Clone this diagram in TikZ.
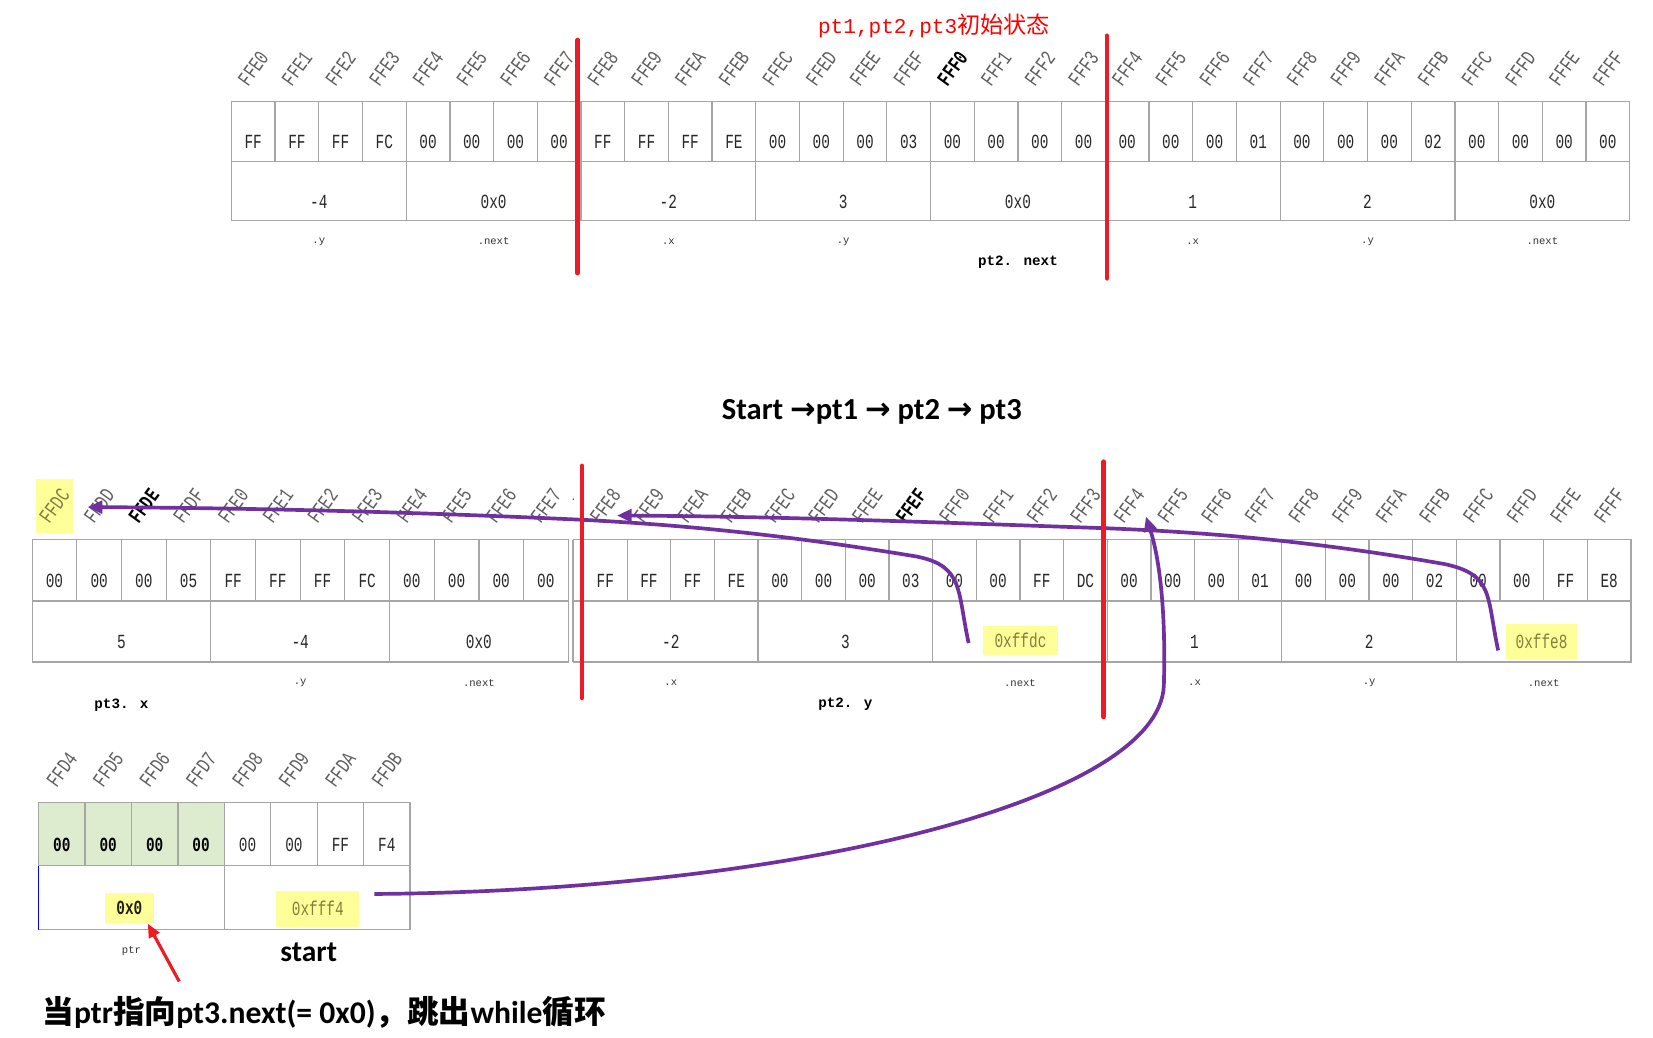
\documentclass[tikz,border=0pt]{standalone}
\usepackage{fontspec}
\usetikzlibrary{arrows.meta,calc}
\newfontfamily\cellfont[FakeStretch=0.72]{Liberation Mono}
\newfontfamily\monof{Liberation Mono}
\newfontfamily\cjkf{Noto Sans CJK SC}
\newfontfamily\carl{Carlito}
\newfontfamily\dejav{DejaVu Sans}
\definecolor{cellgray}{RGB}{166,166,166}
\definecolor{txt}{RGB}{40,40,40}
\definecolor{addrgray}{RGB}{95,95,95}
\definecolor{hlfill}{RGB}{255,255,153}
\definecolor{hltext}{RGB}{128,128,64}
\definecolor{greenfill}{RGB}{221,235,207}
\definecolor{pur}{RGB}{112,48,160}
\definecolor{redc}{RGB}{237,28,36}
\newcommand\harr{{\dejav\bfseries →}}
\begin{document}
\begin{tikzpicture}[x=1pt,y=1pt,
  bytec/.style={draw=cellgray, line width=1.2pt, inner sep=0pt, outer sep=0pt, anchor=north west, text height=33pt, text depth=0pt, font=\cellfont\fontsize{19}{19}\selectfont, text=txt},
  dims/.style 2 args={minimum width=#1, minimum height=#2},
  greenc/.style={fill=greenfill, font=\cellfont\bfseries\fontsize{19}{19}\selectfont, text=black},
  addr/.style={rotate=54, inner sep=0pt, font=\cellfont\fontsize{20}{20}\selectfont, text=addrgray},
  addrb/.style={addr, font=\cellfont\bfseries\fontsize{20}{20}\selectfont, text=black},
  addrhl/.style={addr, text=hltext},
  lbl/.style={inner sep=0pt, font=\monof\fontsize{10}{10}\selectfont, text=black!80},
  blbl/.style={inner sep=0pt, font=\monof\bfseries\fontsize{13.5}{14}\selectfont, text=black},
  hlbox/.style={fill=hlfill, inner sep=0pt, font=\cellfont\fontsize{19}{19}\selectfont, text=hltext},
  parrow/.style={draw=pur, line width=3.5pt, -{Triangle[length=14pt,width=12pt]}},
  redline/.style={draw=redc, line width=4.5pt, line cap=round},
  rarrow/.style={draw=redc, line width=3pt, -{Triangle[length=13pt,width=11pt]}}]
\useasboundingbox (0,0) rectangle (1568,-984);
\fill[white] (0,0) rectangle (1568,-984);

% ---------- top title ----------
\node[text=red, inner sep=0pt] (title1) at (886,-25) {\monof\fontsize{20}{22}\selectfont pt1,pt2,pt3\cjkf\fontsize{22}{24}\selectfont 初始状态};

% ---------- top table ----------
\foreach \v/\s [count=\i from 0] in {FFE0/addr,FFE1/addr,FFE2/addr,FFE3/addr,FFE4/addr,FFE5/addr,FFE6/addr,FFE7/addr,FFE8/addr,FFE9/addr,FFEA/addr,FFEB/addr,FFEC/addr,FFED/addr,FFEE/addr,FFEF/addr,FFF0/addrb,FFF1/addr,FFF2/addr,FFF3/addr,FFF4/addr,FFF5/addr,FFF6/addr,FFF7/addr,FFF8/addr,FFF9/addr,FFFA/addr,FFFB/addr,FFFC/addr,FFFD/addr,FFFE/addr,FFFF/addr}
  \node[\s] (ta\i) at ({219.5+41.45*(\i+0.5)},-65) {\v};
\foreach \v [count=\i from 0] in {FF,FF,FF,FC,00,00,00,00,FF,FF,FF,FE,00,00,00,03,00,00,00,00,00,00,00,01,00,00,00,02,00,00,00,00}
  \node[bytec, dims={41.45pt}{57pt}] (tb\i) at ({219.5+41.45*\i},-96) {\v};
\foreach \v [count=\i from 0] in {-4,0x0,-2,3,0x0,1,2,0x0}
  \node[bytec, dims={165.8pt}{56pt}] (tg\i) at ({219.5+165.8*\i},-153) {\v};
\foreach \t/\g in {.y/0,.next/1,.x/2,.y/3,.x/5,.y/6,.next/7}
  \node[lbl] (tl\g) at ($(tg\g.south)+(0,-20)$) {\t};
\node[blbl] (pt2next) at ($(tg4.south)+(0,-40)$) {pt2. next};

% ---------- middle title ----------
\node[inner sep=0pt, font=\carl\bfseries\fontsize{29}{32}\selectfont] (title2) at (827,-391) {Start \harr pt1 \harr\ pt2 \harr\ pt3};

% ---------- middle table, left part ----------
\node[hlbox, minimum width=35pt, minimum height=52pt] (hlDC) at (51.5,-480) {};
\foreach \v/\s [count=\i from 0] in {FFDC/addrhl,FFDD/addr,FFDE/addrb,FFDF/addr,FFE0/addr,FFE1/addr,FFE2/addr,FFE3/addr,FFE4/addr,FFE5/addr,FFE6/addr,FFE7/addr}
  \node[\s] (ma\i) at ({30.5+42.375*(\i+0.5)},-480) {\v};
\foreach \v [count=\i from 0] in {00,00,00,05,FF,FF,FF,FC,00,00,00,00}
  \node[bytec, dims={42.375pt}{58pt}] (mlb\i) at ({30.5+42.375*\i},-512) {\v};
\foreach \v [count=\i from 0] in {5,-4,0x0}
  \node[bytec, dims={169.5pt}{58pt}] (mlg\i) at ({30.5+169.5*\i},-570) {\v};
\node[lbl] (mll1) at ($(mlg1.south)+(0,-20)$) {.y};
\node[lbl] (mll2) at ($(mlg2.south)+(0,-20)$) {.next};
\node[blbl] (pt3x) at ($(mlg0.south)+(0,-41)$) {pt3. x};
\node[inner sep=0pt, font=\monof\fontsize{10}{10}\selectfont, text=black!70] (dot) at (544,-474) {.};

% ---------- middle table, right part ----------
\draw[cellgray, line width=1.2pt] (543.5,-512) -- (553.5,-512) (543.5,-570) -- (553.5,-570) (543.5,-628) -- (553.5,-628) (543.5,-512) -- (543.5,-628);
\foreach \v/\s [count=\i from 0] in {FFE8/addr,FFE9/addr,FFEA/addr,FFEB/addr,FFEC/addr,FFED/addr,FFEE/addr,FFEF/addrb,FFF0/addr,FFF1/addr,FFF2/addr,FFF3/addr,FFF4/addr,FFF5/addr,FFF6/addr,FFF7/addr,FFF8/addr,FFF9/addr,FFFA/addr,FFFB/addr,FFFC/addr,FFFD/addr,FFFE/addr,FFFF/addr}
  \node[\s] (mra\i) at ({553.5+41.4*(\i+0.5)},-480) {\v};
\foreach \v [count=\i from 0] in {FF,FF,FF,FE,00,00,00,03,00,00,FF,DC,00,00,00,01,00,00,00,02,00,00,FF,E8}
  \node[bytec, dims={41.4pt}{58pt}] (mrb\i) at ({553.5+41.4*\i},-512) {\v};
\foreach \v [count=\i from 0] in {-2,3,{},1,2,{}}
  \node[bytec, dims={165.6pt}{58pt}] (mrg\i) at ({553.5+165.6*\i},-570) {\v};
\foreach \t/\g in {.x/0,.next/2,.x/3,.y/4,.next/5}
  \node[lbl] (mrl\g) at ($(mrg\g.south)+(0,-20)$) {\t};
\node[blbl] (pt2y) at ($(mrg1.south)+(0,-40)$) {pt2. y};
\node[hlbox, minimum width=72pt, minimum height=27pt] (hlffdc) at ($(mrg2.center)+(0.5,-8.5)$) {0xffdc};
\node[hlbox, minimum width=68pt, minimum height=33pt] (hlffe8) at ($(mrg5.center)+(-2,-9.5)$) {0xffe8};

% ---------- bottom table ----------
\foreach \v [count=\i from 0] in {FFD4,FFD5,FFD6,FFD7,FFD8,FFD9,FFDA,FFDB}
  \node[addr] (ba\i) at ({36.6+44.05*(\i+0.5)},-730) {\v};
\foreach \v [count=\i from 0] in {00,00,00,00}
  \node[bytec, dims={44.05pt}{60pt}, greenc] (bb\i) at ({36.6+44.05*\i},-761) {\v};
\foreach \v [count=\i from 4] in {00,00,FF,F4}
  \node[bytec, dims={44.05pt}{60pt}] (bb\i) at ({36.6+44.05*\i},-761) {\v};
\node[bytec, dims={176.2pt}{61pt}] (bg0) at (36.6,-821) {};
\node[bytec, dims={176.2pt}{61pt}] (bg1) at (212.8,-821) {};
\draw[blue, line width=1.2pt] (bg0.north west) -- (bg0.south west);
\node[hlbox, minimum width=47pt, minimum height=29pt, text=black!75!hltext, font=\cellfont\bfseries\fontsize{19}{19}\selectfont] (hlzero) at ($(bg0.center)+(-2,-10)$) {0x0};
\node[hlbox, minimum width=79pt, minimum height=34pt] (hlfff4) at ($(bg1.center)+(0.6,-10.5)$) {0xfff4};
\node[lbl] (ptr) at ($(bg0.south)+(0,-20)$) {ptr};
\node[inner sep=0pt, font=\carl\bfseries\fontsize{28}{30}\selectfont] (start) at ($(bg1.south)+(-8,-21)$) {start};
\node[inner sep=0pt, anchor=west, font=\bfseries\fontsize{30}{33}\selectfont] (note) at (40,-960)
  {{\cjkf 当}{\carl ptr}{\cjkf 指向}{\carl pt3.next(= 0x0)}{\cjkf ，跳出}{\carl while}{\cjkf 循环}};

% ---------- purple pointer arrows ----------
\draw[parrow] ($(hlffdc.west)+(-13,-2.5)$) .. controls (908,-560) and (914,-537) .. (870,-528)
  .. controls (750,-508) and (650,-498) .. (551,-493)
  .. controls (400,-486) and (250,-482) .. ($(ma1)+(-11,-1)$);
\draw[parrow] ($(hlffe8.west)+(-7,-8.5)$) .. controls (1410,-565) and (1417,-545) .. (1370,-535)
  .. controls (1250,-514) and (1150,-505) .. (1047,-501)
  .. controls (900,-496) and (750,-490) .. ($(mra0)+(11,-9)$);
\draw[parrow] ($(hlfff4.east)+(14,14)$) .. controls (750,-845) and (1100,-760) .. (1104,-650)
  .. controls (1106,-580) and (1100,-530) .. ($(mra12)+(16,-10)$);

% ---------- red separators ----------
\draw[redline] (548,-38) -- (548,-259);
\draw[redline] (1050,-34) -- (1050,-264);
\draw[redline] (552,-442) -- (552,-662);
\draw[redline] (1047,-438) -- (1047,-680);

% ---------- red arrow ----------
\draw[rarrow] ($(note.west)+(130,29)$) -- ($(hlzero.south)+(17.5,0)$);
\end{tikzpicture}
\end{document}
